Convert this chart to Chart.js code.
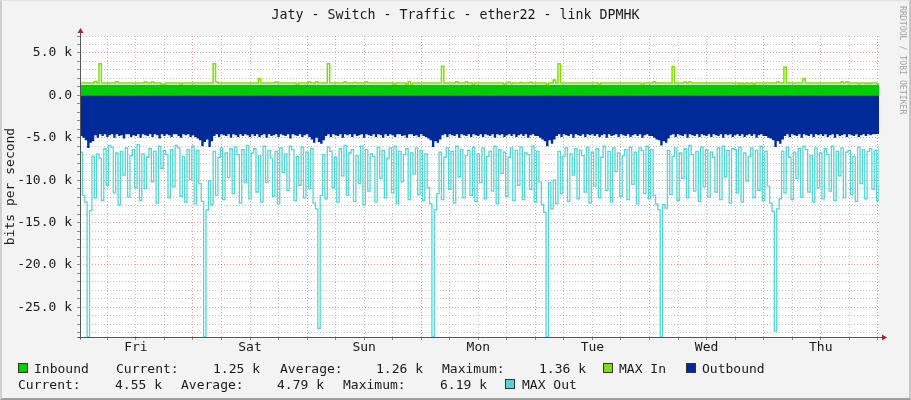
<!DOCTYPE html>
<html>
<head>
<meta charset="utf-8">
<script src="https://cdn.jsdelivr.net/npm/chart.js@4.4.1/dist/chart.umd.min.js"></script>
<style>
  body { margin: 0; background: #F3F3F3; }
  #wrap { position: relative; width: 911px; height: 400px; background: #F3F3F3; overflow: hidden;
          font-family: 'DejaVu Sans Mono', monospace; font-size: 13px; color: #1a1a1a; }
  canvas { position: absolute; left: 0; top: 0; }
  #frame { position: absolute; left: 0; top: 0; width: 911px; height: 400px; box-sizing: border-box;
           border-style: solid; border-width: 1px 2px 2px 2px;
           border-color: #E2E2E2 #C6C6C6 #9E9E9E #D0D0D0; pointer-events: none; }
  .t { position: absolute; white-space: pre; line-height: 15px; }
  .sw { position: absolute; width: 10px; height: 10px; box-sizing: border-box; border: 1px solid #333; }
  #title { left: 0; width: 911px; text-align: center; top: 7px; font-size: 13.3px; }
  #wm { left: 898px; top: 6px; writing-mode: vertical-rl; font-size: 8.2px; color: #A2A2A2; line-height: 10px; }
</style>
</head>
<body>
<div id="wrap">
  <canvas id="chart" width="911" height="400"></canvas>
  <div class="t" id="title">Jaty - Switch - Traffic - ether22 - link DPMHK</div>
  <div class="t" id="wm">RRDTOOL / TOBI OETIKER</div>

  <div class="sw" style="left:18px;top:363px;background:#00CC00"></div>
  <div class="t" style="left:34px;top:361px">Inbound</div>
  <div class="t" style="left:116px;top:361px">Current:</div>
  <div class="t" style="left:213px;top:361px">1.25 k</div>
  <div class="t" style="left:280px;top:361px">Average:</div>
  <div class="t" style="left:376px;top:361px">1.26 k</div>
  <div class="t" style="left:442px;top:361px">Maximum:</div>
  <div class="t" style="left:539px;top:361px">1.36 k</div>
  <div class="sw" style="left:603px;top:363px;background:#7FE000"></div>
  <div class="t" style="left:619px;top:361px">MAX In</div>
  <div class="sw" style="left:686px;top:363px;background:#002A97"></div>
  <div class="t" style="left:702px;top:361px">Outbound</div>

  <div class="t" style="left:18px;top:377px">Current:</div>
  <div class="t" style="left:115px;top:377px">4.55 k</div>
  <div class="t" style="left:181px;top:377px">Average:</div>
  <div class="t" style="left:277px;top:377px">4.79 k</div>
  <div class="t" style="left:343px;top:377px">Maximum:</div>
  <div class="t" style="left:440px;top:377px">6.19 k</div>
  <div class="sw" style="left:505px;top:379px;background:#55D6D3"></div>
  <div class="t" style="left:522px;top:377px">MAX Out</div>

  <div id="frame"></div>
</div>
<script>
// one week, hour 0 = left edge of the plot (just after Fri 00:00)
const dayNames = ['Fri', 'Sat', 'Sun', 'Mon', 'Tue', 'Wed', 'Thu'];
const dayOffset = -0.25;   // midnight falls 15 min before each whole day mark

// inbound average, hourly samples (k bit/s)
const inbound = [
  1.25,1.26,1.25,1.24,1.25,1.25,1.26,1.25,1.25,1.24,1.25,1.25,1.26,1.25,1.25,1.25,1.24,1.25,1.26,1.25,1.25,1.25,1.24,1.25,
  1.25,1.25,1.26,1.25,1.24,1.25,1.25,1.25,1.26,1.25,1.25,1.24,1.25,1.25,1.25,1.26,1.25,1.25,1.24,1.25,1.25,1.26,1.25,1.25,
  1.25,1.24,1.25,1.26,1.25,1.25,1.25,1.24,1.25,1.25,1.26,1.25,1.25,1.25,1.24,1.25,1.26,1.25,1.25,1.25,1.24,1.25,1.25,1.26,
  1.25,1.25,1.24,1.25,1.25,1.26,1.25,1.25,1.25,1.24,1.25,1.25,1.26,1.25,1.25,1.24,1.25,1.25,1.25,1.26,1.25,1.25,1.24,1.25,
  1.26,1.25,1.25,1.24,1.25,1.25,1.26,1.25,1.25,1.25,1.24,1.25,1.25,1.26,1.25,1.25,1.24,1.25,1.25,1.25,1.26,1.25,1.25,1.24,
  1.25,1.25,1.26,1.25,1.25,1.24,1.25,1.25,1.25,1.26,1.25,1.25,1.24,1.25,1.25,1.26,1.25,1.25,1.25,1.24,1.25,1.25,1.26,1.25,
  1.25,1.24,1.25,1.25,1.26,1.25,1.25,1.25,1.24,1.25,1.25,1.26,1.25,1.25,1.24,1.25,1.25,1.25,1.26,1.25,1.25,1.24,1.25,1.25,
  1.25
];

// MAX In, half-hour samples (k bit/s)
const maxIn = [
  1.47,1.47,1.47,1.47,1.47,1.47,1.62,1.47,3.74,1.47,1.47,1.47,1.47,1.47,1.47,1.60,1.47,1.47,1.47,1.47,1.47,1.47,1.47,1.47,
  1.47,1.47,1.47,1.58,1.47,1.47,1.58,1.47,1.47,1.47,1.35,1.35,1.47,1.47,1.47,1.47,1.47,1.47,1.35,1.47,1.47,1.47,1.47,1.47,
  1.47,1.47,1.47,1.47,1.47,1.47,1.47,1.47,3.74,1.58,1.47,1.47,1.47,1.47,1.47,1.47,1.47,1.47,1.47,1.47,1.47,1.47,1.47,1.47,
  1.47,1.47,1.47,1.95,1.47,1.47,1.47,1.47,1.47,1.47,1.58,1.47,1.47,1.47,1.47,1.47,1.47,1.47,1.47,1.35,1.47,1.47,1.47,1.47,
  1.58,1.47,1.47,1.58,1.47,1.47,1.47,1.47,3.74,1.47,1.47,1.47,1.47,1.47,1.47,1.58,1.47,1.47,1.47,1.52,1.47,1.47,1.47,1.47,
  1.58,1.47,1.47,1.47,1.47,1.47,1.47,1.47,1.47,1.47,1.47,1.47,1.35,1.47,1.47,1.47,1.47,1.35,1.60,1.35,1.47,1.47,1.47,1.47,
  1.47,1.47,1.47,1.47,1.47,1.47,1.47,1.47,3.43,1.47,1.47,1.47,1.47,1.47,1.60,1.47,1.47,1.47,1.58,1.47,1.47,1.35,1.47,1.47,
  1.47,1.47,1.47,1.47,1.47,1.47,1.47,1.47,1.47,1.47,1.35,1.47,1.55,1.40,1.47,1.47,1.47,1.52,1.47,1.47,1.47,1.55,1.47,1.47,
  1.47,1.47,1.47,1.47,1.28,1.47,1.47,1.80,1.47,3.74,1.47,1.47,1.47,1.47,1.47,1.47,1.47,1.47,1.47,1.47,1.47,1.47,1.47,1.47,
  1.47,1.47,1.35,1.47,1.47,1.47,1.47,1.47,1.47,1.47,1.47,1.47,1.47,1.47,1.47,1.47,1.47,1.47,1.47,1.47,1.35,1.47,1.47,1.47,
  1.47,1.60,1.47,1.47,1.47,1.47,1.47,1.47,1.47,3.40,1.47,1.47,1.47,1.47,1.58,1.47,1.58,1.47,1.47,1.47,1.47,1.47,1.47,1.47,
  1.47,1.47,1.47,1.47,1.47,1.47,1.47,1.47,1.47,1.47,1.47,1.47,1.47,1.38,1.47,1.38,1.47,1.40,1.47,1.35,1.47,1.47,1.47,1.47,
  1.47,1.47,1.47,1.47,1.47,1.58,1.47,1.47,3.30,1.47,1.47,1.47,1.47,1.47,1.47,1.47,1.95,1.47,1.47,1.47,1.47,1.47,1.47,1.47,
  1.47,1.47,1.47,1.47,1.47,1.47,1.47,1.47,1.58,1.47,1.58,1.47,1.47,1.47,1.47,1.38,1.47,1.47,1.40,1.47,1.40,1.47,1.47,1.38,
  1.47
];

// outbound average, half-hour samples (k bit/s, drawn below zero)
const outbound = [
  -4.8,-5.0,-5.3,-6.2,-5.6,-5.4,-4.7,-5.0,-4.6,-4.8,-4.6,-4.9,-4.7,-4.6,-5.0,-4.6,-4.8,-4.7,-5.1,-4.6,-4.6,-4.9,-4.7,-4.8,
  -4.6,-5.0,-4.6,-4.7,-4.8,-4.6,-4.9,-4.6,-4.7,-5.1,-4.6,-4.8,-4.6,-4.7,-4.9,-4.6,-4.6,-4.8,-5.0,-4.6,-4.7,-4.6,-4.9,-4.7,
  -4.9,-5.1,-5.3,-6.0,-5.5,-5.2,-6.1,-5.4,-4.8,-4.6,-4.9,-4.6,-4.7,-4.8,-4.6,-5.0,-4.6,-4.7,-4.9,-4.6,-4.8,-4.6,-4.7,-4.9,
  -4.6,-4.8,-4.6,-4.9,-4.7,-4.6,-5.0,-4.6,-4.8,-4.7,-4.6,-4.9,-4.6,-4.7,-4.8,-4.6,-5.1,-4.6,-4.7,-4.8,-4.6,-4.9,-4.7,-4.6,
  -4.9,-5.2,-5.6,-5.0,-5.5,-5.7,-5.3,-4.8,-4.6,-4.9,-4.6,-4.7,-4.8,-4.6,-5.0,-4.6,-4.7,-4.6,-4.9,-4.6,-4.8,-4.7,-4.6,-5.0,
  -4.6,-4.7,-4.8,-4.6,-4.9,-4.6,-4.7,-5.0,-4.6,-4.8,-4.6,-4.7,-4.9,-4.6,-4.6,-4.8,-4.7,-5.0,-4.6,-4.6,-4.8,-4.7,-4.9,-4.6,
  -4.8,-4.9,-5.1,-5.3,-6.1,-5.4,-5.6,-5.2,-4.7,-4.6,-4.9,-4.6,-4.7,-4.8,-4.6,-5.0,-4.6,-4.7,-4.8,-4.6,-4.9,-4.6,-4.7,-4.8,
  -4.6,-4.9,-4.6,-4.7,-4.8,-4.6,-5.0,-4.6,-4.7,-4.6,-4.9,-4.7,-4.6,-4.8,-4.6,-4.9,-4.7,-4.6,-4.8,-4.6,-5.0,-4.7,-4.6,-4.8,
  -4.8,-5.0,-5.2,-5.4,-6.0,-5.3,-5.7,-5.2,-4.8,-4.6,-4.9,-4.6,-4.7,-4.8,-4.6,-5.0,-4.6,-4.7,-4.8,-4.6,-4.9,-4.6,-4.7,-4.6,
  -4.8,-4.6,-4.9,-4.7,-4.6,-5.0,-4.6,-4.8,-4.7,-4.6,-4.9,-4.6,-4.7,-4.8,-4.6,-4.9,-4.7,-4.6,-4.8,-4.6,-5.0,-4.7,-4.6,-4.8,
  -4.8,-5.0,-5.2,-5.3,-5.9,-5.4,-5.6,-5.1,-4.7,-4.6,-4.9,-4.6,-4.7,-4.8,-4.6,-5.0,-4.6,-4.7,-4.8,-4.6,-4.9,-4.6,-4.7,-4.8,
  -4.6,-4.9,-4.6,-4.7,-4.8,-4.6,-5.0,-4.6,-4.7,-4.6,-4.9,-4.7,-4.6,-4.8,-4.6,-4.9,-4.7,-4.6,-4.8,-4.6,-5.0,-4.7,-4.6,-4.8,
  -4.8,-5.0,-5.1,-5.3,-6.1,-5.4,-5.7,-5.2,-4.8,-4.6,-4.9,-4.6,-4.7,-4.8,-4.6,-5.0,-4.6,-4.7,-4.8,-4.6,-4.9,-4.6,-4.7,-4.6,
  -4.8,-4.6,-4.9,-4.7,-4.6,-5.0,-4.6,-4.8,-4.7,-4.6,-4.9,-4.6,-4.7,-4.8,-4.6,-4.9,-4.7,-4.6,-4.8,-4.6,-4.7,-4.6,-4.6,-4.55,
  -4.55
];

// MAX Out, half-hour samples (k bit/s, drawn below zero)
const maxOut = [
  -6.7,-11.8,-12.6,-28.5,-13.6,-7.2,-12.1,-6.9,-7.4,-12.4,-6.3,-10.6,-5.9,-6.1,-11.5,-6.8,-12.9,-6.6,-9.4,-6.2,-12.0,-7.1,-6.4,-10.9,
  -5.8,-12.4,-6.9,-11.0,-7.3,-6.3,-10.2,-6.6,-12.7,-6.0,-8.6,-6.5,-7.0,-12.1,-6.4,-10.8,-5.9,-6.2,-11.9,-7.2,-12.6,-6.4,-9.9,-6.0,
  -12.8,-6.5,-10.4,-12.5,-28.5,-13.5,-10.1,-12.9,-6.6,-11.8,-7.3,-6.2,-12.3,-6.8,-9.7,-6.3,-11.6,-6.1,-7.0,-12.7,-6.4,-10.3,-5.9,-12.2,
  -6.8,-6.3,-11.4,-7.1,-12.6,-6.0,-10.3,-6.5,-7.4,-11.9,-6.6,-12.8,-6.2,-9.1,-6.9,-11.2,-6.0,-6.4,-12.4,-7.2,-10.6,-6.1,-12.1,-6.7,
  -11.0,-6.3,-12.7,-13.4,-27.5,-11.8,-7.0,-12.2,-6.1,-6.6,-10.9,-7.3,-12.6,-6.3,-9.5,-5.9,-11.8,-6.8,-6.4,-12.5,-7.1,-10.4,-6.0,-12.9,
  -6.4,-11.3,-6.9,-7.2,-12.6,-6.1,-9.8,-6.5,-12.1,-7.4,-6.2,-11.5,-6.0,-12.8,-6.6,-10.2,-7.0,-6.3,-12.3,-6.8,-9.3,-6.2,-11.7,-6.5,
  -12.4,-6.9,-10.9,-12.8,-28.5,-13.5,-11.6,-6.7,-12.3,-7.3,-6.2,-11.1,-6.6,-12.7,-6.0,-9.6,-6.4,-12.1,-7.1,-6.5,-11.8,-6.1,-12.5,-6.9,
  -10.3,-6.2,-12.2,-7.2,-6.6,-11.3,-6.0,-12.8,-6.4,-9.2,-6.7,-11.9,-7.3,-6.2,-12.4,-6.5,-10.6,-6.1,-12.3,-6.8,-7.0,-11.1,-6.0,-12.6,
  -6.6,-10.2,-12.9,-13.8,-28.5,-10.3,-13.4,-10.0,-12.8,-6.6,-11.6,-7.2,-6.2,-12.5,-6.9,-9.4,-6.3,-12.2,-6.5,-7.1,-11.4,-6.1,-12.7,-6.7,
  -10.7,-6.3,-12.1,-7.3,-6.0,-11.2,-6.6,-12.6,-6.2,-9.0,-6.8,-11.9,-7.1,-6.4,-12.3,-6.1,-10.5,-6.7,-12.8,-6.2,-6.5,-11.6,-6.0,-12.2,
  -6.4,-11.8,-12.8,-13.5,-28.5,-12.9,-13.3,-6.5,-11.7,-7.2,-6.2,-12.4,-6.8,-9.8,-6.3,-12.1,-5.9,-7.0,-11.3,-6.6,-12.5,-6.1,-10.8,-6.4,
  -12.0,-6.7,-7.3,-11.4,-6.2,-12.3,-6.0,-9.6,-6.5,-12.7,-6.3,-6.4,-11.5,-6.1,-12.6,-6.8,-10.1,-7.2,-6.2,-12.1,-6.5,-11.2,-6.0,-12.4,
  -6.6,-10.7,-12.7,-13.7,-27.8,-13.4,-12.2,-6.6,-11.5,-6.1,-7.3,-12.3,-6.7,-9.8,-6.3,-12.0,-6.0,-6.4,-11.4,-7.1,-12.6,-6.2,-10.9,-6.8,
  -12.2,-6.3,-7.0,-11.3,-6.0,-12.4,-6.6,-9.5,-6.2,-12.1,-6.7,-6.5,-11.7,-7.2,-12.5,-6.1,-10.4,-6.4,-12.2,-6.6,-6.3,-11.1,-6.5,-12.4,
  -6.2
];

const inStep = 1;      // hours between inbound samples
const halfStep = 0.5;  // hours between the other samples

const toPoints = (vals, step) => vals.map((v, i) => ({ x: i * step, y: v }));

// every 6 h a grid line, every 24 h a red one; day names at noon
const gridHours = Array.from({ length: 28 }, (_, k) => 6 + dayOffset + 6 * k);
const yGrid = Array.from({ length: 36 }, (_, k) => -28 + k);

const MINOR = 'rgba(150,150,150,0.55)';
const MAJOR = 'rgba(225,90,90,0.6)';

const isDayLine = v => Math.abs((((v - dayOffset) % 24) + 24) % 24) < 0.01;
const isNoon = v => Math.abs((((v - dayOffset - 12) % 24) + 24) % 24) < 0.01;

const plotFrame = {
  id: 'plotFrame',
  beforeDraw(chart) {
    const { ctx, chartArea: a } = chart;
    ctx.save();
    ctx.fillStyle = '#FFFFFF';
    ctx.fillRect(a.left, a.top, a.right - a.left, a.bottom - a.top);
    ctx.restore();
  },
  afterDraw(chart) {
    const { ctx, chartArea: a } = chart;
    const l = Math.round(a.left) + 0.5, b = Math.round(a.bottom) + 0.5;
    ctx.save();
    ctx.strokeStyle = '#555555';
    ctx.lineWidth = 1;
    ctx.beginPath();
    ctx.moveTo(l, b + 2); ctx.lineTo(l, a.top - 4);
    ctx.moveTo(l - 3, b); ctx.lineTo(a.right + 4, b);
    ctx.stroke();
    ctx.fillStyle = '#A02828';
    ctx.beginPath();
    ctx.moveTo(l - 3, a.top - 3); ctx.lineTo(l + 3, a.top - 3); ctx.lineTo(l, a.top - 8);
    ctx.closePath(); ctx.fill();
    ctx.beginPath();
    ctx.moveTo(a.right + 3, b - 3); ctx.lineTo(a.right + 3, b + 3); ctx.lineTo(a.right + 8, b);
    ctx.closePath(); ctx.fill();
    ctx.restore();
  }
};

const font = { family: "'DejaVu Sans Mono', monospace", size: 13 };

new Chart(document.getElementById('chart'), {
  type: 'line',
  data: {
    datasets: [
      { label: 'MAX In', data: toPoints(maxIn, halfStep), borderColor: '#7FE000', borderWidth: 1.5,
        pointRadius: 0, stepped: true, fill: false, order: 0 },
      { label: 'MAX Out', data: toPoints(maxOut, halfStep), borderColor: '#55D6D3', borderWidth: 1.3,
        pointRadius: 0, stepped: true, fill: false, order: 0 },
      { label: 'Inbound', data: toPoints(inbound, inStep), borderWidth: 0, backgroundColor: '#00CC00',
        pointRadius: 0, stepped: true, fill: 'origin', order: 1 },
      { label: 'Outbound', data: toPoints(outbound, halfStep), borderWidth: 0, backgroundColor: '#002A97',
        pointRadius: 0, stepped: true, fill: 'origin', order: 1 }
    ]
  },
  options: {
    responsive: false,
    animation: false,
    layout: { padding: { left: 0, top: 36, right: 32, bottom: 0 } },
    plugins: { legend: { display: false }, tooltip: { enabled: false } },
    scales: {
      x: {
        type: 'linear', min: 0, max: 168, z: 1,
        afterBuildTicks: s => { s.ticks = gridHours.map(v => ({ value: v })); },
        afterFit: s => { s.height = 63; },
        grid: { color: c => (c.tick && isDayLine(c.tick.value) ? MAJOR : MINOR),
                tickLength: 3, tickColor: '#888' },
        border: { display: false, dash: [1, 2] },
        ticks: {
          autoSkip: false, maxRotation: 0, padding: 0, color: '#1a1a1a', font,
          callback: v => (isNoon(v) ? dayNames[Math.floor((v - dayOffset) / 24)] : '')
        }
      },
      y: {
        type: 'linear', min: -28.5, max: 7, z: 1,
        afterBuildTicks: s => { s.ticks = yGrid.map(v => ({ value: v })); },
        afterFit: s => { s.width = 80; },
        grid: { color: c => (c.tick && c.tick.value % 5 === 0 ? MAJOR : MINOR),
                tickLength: 3, tickColor: '#888' },
        border: { display: false, dash: [1, 2] },
        ticks: {
          autoSkip: false, padding: 5, color: '#1a1a1a', font,
          callback: v => (v % 5 !== 0 ? '' : v === 0 ? '0.0' : v.toFixed(1) + ' k')
        },
        title: { display: true, text: 'bits per second', color: '#1a1a1a', font, padding: { top: 3, bottom: 0 } }
      }
    }
  },
  plugins: [plotFrame]
});
</script>
</body>
</html>
